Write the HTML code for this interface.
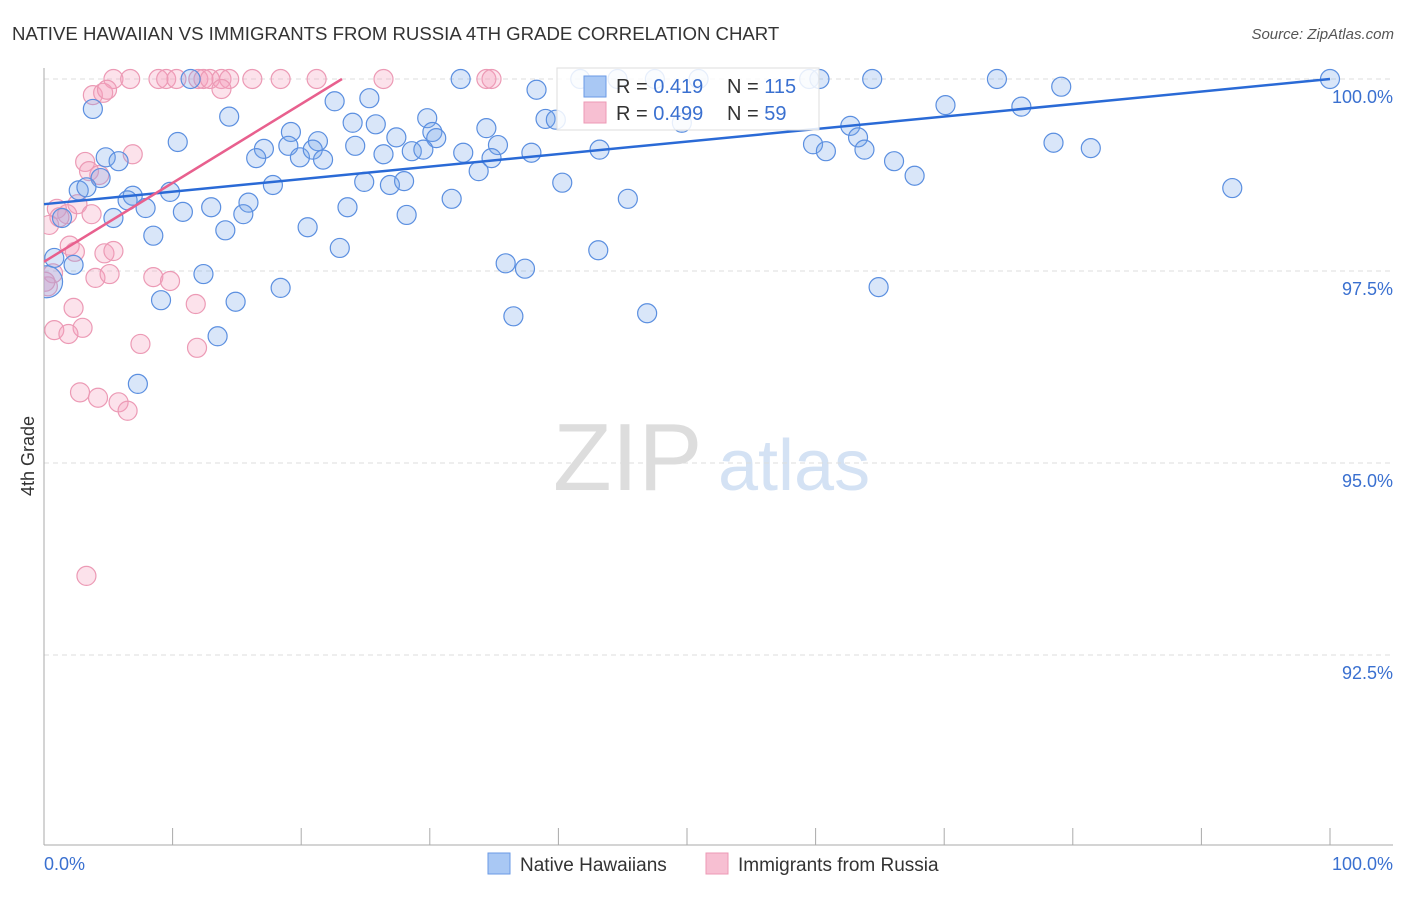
<!DOCTYPE html>
<html><head><meta charset="utf-8">
<style>
body{margin:0;background:#fff;font-family:"Liberation Sans",sans-serif;}
svg text{font-family:"Liberation Sans",sans-serif;}
</style></head>
<body>
<svg id="chart" width="1406" height="892" xmlns="http://www.w3.org/2000/svg">
<defs><clipPath id="plotclip"><rect x="44" y="60" width="1360" height="786"/></clipPath></defs>
<text x="12" y="40" font-size="18.6" fill="#333">NATIVE HAWAIIAN VS IMMIGRANTS FROM RUSSIA 4TH GRADE CORRELATION CHART</text>
<text x="1394" y="39" font-size="15" fill="#555" text-anchor="end" font-style="italic">Source: ZipAtlas.com</text>
<g>
<text x="553" y="490" font-size="96" fill="#ddd" font-family="Liberation Serif">ZIP</text>
<text x="718" y="490" font-size="72" fill="#d4e2f4">atlas</text>
</g>
<g id="grid"></g>
<g id="axes"></g>
<g id="pts" clip-path="url(#plotclip)"></g>
<g id="trend"></g>
<g>
<rect x="557" y="68" width="262" height="62" fill="#fff" fill-opacity="0.85" stroke="#ddd"/>
<rect x="584" y="76" width="22" height="21" fill="#a9c8f4" stroke="#6a9ae6"/>
<rect x="584" y="102" width="22" height="21" fill="#f7bfd2" stroke="#ec9ab5"/>
<text x="616" y="93" font-size="20" fill="#333">R = <tspan fill="#3a70d0">0.419</tspan></text>
<text x="727" y="93" font-size="20" fill="#333">N = <tspan fill="#3a70d0">115</tspan></text>
<text x="616" y="120" font-size="20" fill="#333">R = <tspan fill="#3a70d0">0.499</tspan></text>
<text x="727" y="120" font-size="20" fill="#333">N = <tspan fill="#3a70d0"> 59</tspan></text>
</g>
<g>
<rect x="488" y="853" width="22" height="21" fill="#a9c8f4" stroke="#6a9ae6"/>
<text x="520" y="871" font-size="19" fill="#333">Native Hawaiians</text>
<rect x="706" y="853" width="22" height="21" fill="#f7bfd2" stroke="#ec9ab5"/>
<text x="738" y="871" font-size="19" fill="#333">Immigrants from Russia</text>
</g>
<text transform="translate(34,456) rotate(-90)" font-size="18" fill="#333" text-anchor="middle">4th Grade</text>
</svg>
<script>
const yTicks=[100,97.5,95,92.5];
const yTickLabels=["100.0%","97.5%","95.0%","92.5%"];
const xTickLabels=["0.0%","100.0%"];
const blueX=[32.4,41.7,44.6,47.5,50.9,59.5,60.3,64.4,74.1,100,11.4,38.3,79.1,3.8,22.6,25.3,70.1,76.0,14.4,29.8,24.0,25.8,39.0,39.8,49.6,62.7,34.4,19.2,27.4,30.2,30.5,63.3,10.4,17.1,19.0,21.3,24.2,35.3,43.2,59.8,60.8,63.8,78.5,81.4,16.5,19.9,20.9,21.7,26.4,28.6,29.5,32.6,34.8,37.9,66.1,4.8,5.8,33.8,67.7,4.4,17.8,24.9,26.9,28.0,40.3,92.4,2.7,3.3,6.9,6.5,9.8,15.9,31.7,45.4,7.9,13.0,23.6,5.4,10.8,15.5,28.2,1.4,14.1,20.5,8.5,23.0,43.1,0.8,2.3,35.9,37.4,12.4,18.4,64.9,9.1,14.9,36.5,46.9,13.5,7.3,0.2];
const blueY=[100,100,100,100,100,100,100,100,100,100,100,99.86,99.90,99.61,99.71,99.75,99.66,99.64,99.51,99.49,99.43,99.41,99.48,99.47,99.43,99.39,99.36,99.31,99.24,99.31,99.23,99.24,99.18,99.09,99.13,99.19,99.13,99.14,99.08,99.15,99.06,99.08,99.17,99.10,98.97,98.98,99.08,98.95,99.02,99.06,99.08,99.04,98.97,99.04,98.93,98.98,98.93,98.80,98.74,98.71,98.62,98.66,98.62,98.67,98.65,98.58,98.55,98.59,98.48,98.42,98.53,98.39,98.44,98.44,98.32,98.33,98.33,98.19,98.27,98.24,98.23,98.19,98.03,98.07,97.96,97.80,97.77,97.67,97.58,97.60,97.53,97.46,97.28,97.29,97.12,97.10,96.91,96.95,96.65,96.03,97.36];
const pinkX=[5.4,6.7,8.9,9.5,10.3,12.0,12.4,12.9,13.8,14.4,16.2,18.4,21.2,26.4,34.4,34.8,3.8,4.6,4.9,13.8,6.9,3.2,3.5,4.3,2.6,1.0,1.8,0.4,3.7,2.0,2.4,4.7,5.4,8.5,9.8,4.0,5.1,0.3,11.8,2.3,0.8,3.0,1.9,7.5,11.9,2.8,4.2,5.8,6.5,3.3,1.2,0.7,0.1];
const pinkY=[100,100,100,100,100,100,100,100,100,100,100,100,100,100,100,100,99.79,99.82,99.86,99.87,99.02,98.92,98.80,98.75,98.37,98.31,98.24,98.10,98.24,97.83,97.75,97.73,97.76,97.42,97.37,97.41,97.46,97.30,97.07,97.02,96.73,96.76,96.68,96.55,96.50,95.92,95.85,95.79,95.68,93.53,98.20,97.47,97.36];
const blueTrendX=[0,100], blueTrendY=[98.37,100];
const pinkTrendX=[0,23.17], pinkTrendY=[97.62,100];

const NS="http://www.w3.org/2000/svg";
const X=v=>44+v*12.86, Y=v=>79+(100-v)*76.8;
function mk(tag,attrs,parent){const e=document.createElementNS(NS,tag);for(const k in attrs)e.setAttribute(k,attrs[k]);document.getElementById(parent).appendChild(e);return e;}
yTicks.forEach((t,i)=>{
  const l=mk('line',{x1:44,x2:1393,y1:Y(t),y2:Y(t),stroke:'#ddd','stroke-dasharray':'5,4'},'grid');
  
  
  const tx=mk('text',{x:1393,y:Y(t)+24,'font-size':18,fill:'#3a70d0','text-anchor':'end'},'axes');
  tx.textContent=yTickLabels[i];
  
  
});
const ax=mk('line',{x1:44,x2:44,y1:68,y2:845,stroke:'#aaa'},'axes');


const bx=mk('line',{x1:44,x2:1393,y1:845,y2:845,stroke:'#aaa'},'axes');


for(let i=0;i<=10;i++){
  const t=mk('line',{x1:X(i*10),x2:X(i*10),y1:828,y2:845,stroke:'#aaa'},'axes');
  
  
}
[[0,'start',44],[100,'end',1393]].forEach((d,i)=>{
  const t=mk('text',{x:d[2],y:870,'font-size':18,fill:'#3a70d0','text-anchor':d[1]},'axes');
  t.textContent=xTickLabels[i];
  
  
});
pinkX.forEach((v,i)=>{
  const c=mk('circle',{cx:X(v),cy:Y(pinkY[i]),r:9.5,fill:'rgba(244,160,190,0.3)',stroke:'#ec9ab5','stroke-width':1.2},'pts');
  
  
});
blueX.forEach((v,i)=>{
  const c=mk('circle',{cx:X(v),cy:Y(blueY[i]),r:(i===blueX.length-1?16:9.5),fill:'rgba(120,165,235,0.28)',stroke:'#5b8fe0','stroke-width':1.2},'pts');
  
  
});
const bl=mk('line',{x1:X(blueTrendX[0]),y1:Y(blueTrendY[0]),x2:X(blueTrendX[1]),y2:Y(blueTrendY[1]),stroke:'#2a6ad6','stroke-width':2.5},'trend');


const pl=mk('line',{x1:X(pinkTrendX[0]),y1:Y(pinkTrendY[0]),x2:X(pinkTrendX[1]),y2:Y(pinkTrendY[1]),stroke:'#e8608e','stroke-width':2.5},'trend');


</script>
</body></html>
